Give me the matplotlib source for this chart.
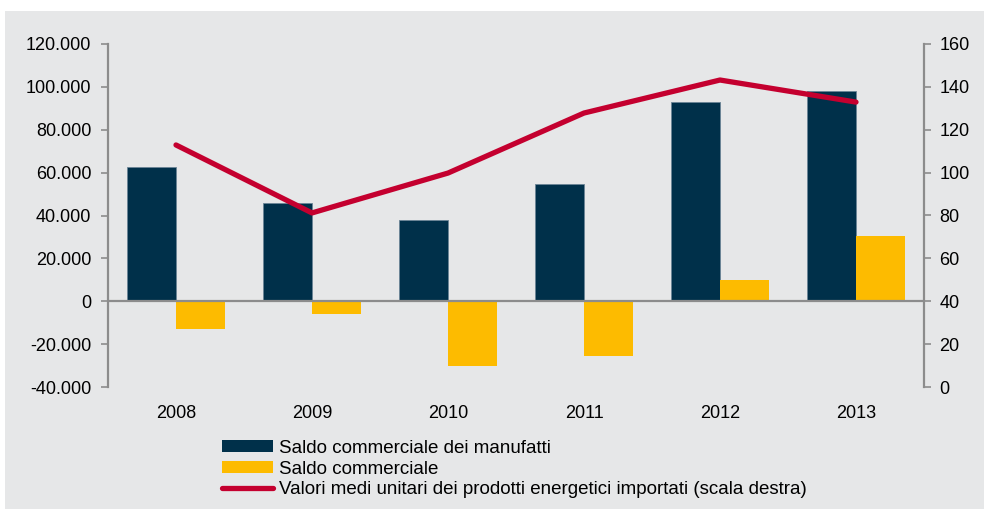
import matplotlib
matplotlib.use("Agg")
import matplotlib.pyplot as plt
import numpy as np
from matplotlib.patches import Rectangle, Patch
from matplotlib.lines import Line2D
from matplotlib.ticker import FuncFormatter, MultipleLocator

plt.rcParams['font.family'] = ['Liberation Sans', 'DejaVu Sans']

years = ["2008", "2009", "2010", "2011", "2012", "2013"]
saldo_manufatti = [62500, 45800, 37800, 54600, 92900, 98300]
saldo_commerciale = [-13100, -6100, -30300, -25700, 9800, 30400]
valori_energetici = [112.9, 81.2, 99.8, 127.8, 143.2, 132.9]

labels = [
    "Saldo commerciale dei manufatti",
    "Saldo commerciale",
    "Valori medi unitari dei prodotti energetici importati (scala destra)",
]

dark = "#00304A"
yellow = "#FDBB00"
red = "#C4002F"
grey = "#8C8C8C"
bg = "#E6E7E8"

fig = plt.figure(figsize=(9.84, 5.09), dpi=100)
fig.patch.set_facecolor("white")
# grey panel behind the chart
fig.patches.append(Rectangle((5 / 984, 0), 1, 1 - 11 / 509, transform=fig.transFigure,
                             facecolor=bg, edgecolor="none", zorder=-10))

ax = fig.add_axes([108 / 984, 1 - 387 / 509, (924 - 108) / 984, (387 - 44) / 509])
ax.set_facecolor("none")
x = np.arange(len(years))
w = 0.357
ax.bar(x - w / 2, saldo_manufatti, w, color=dark, edgecolor="#6C8596", linewidth=0.6, zorder=2)
ax.bar(x + w / 2, saldo_commerciale, w, color=yellow, edgecolor="none", zorder=2)
ax.axhline(0, color=grey, linewidth=1.6, zorder=3)

ax.set_xlim(-0.5, len(years) - 0.5)
ax.set_ylim(-40000, 120000)
ax.yaxis.set_major_locator(MultipleLocator(20000))
ax.yaxis.set_major_formatter(FuncFormatter(lambda v, p: f"{int(v):,}".replace(",", ".")))
ax.set_xticks(x)
ax.set_xticklabels(years)
ax.tick_params(axis="x", length=0, pad=13, labelsize=13)
ax.tick_params(axis="y", direction="out", length=5, width=1.2, color=grey, pad=7, labelsize=13)
for s in ["top", "right", "bottom"]:
    ax.spines[s].set_visible(False)
ax.spines["left"].set_color(grey)
ax.spines["left"].set_linewidth(1.6)

ax2 = ax.twinx()
ax2.plot(x, valori_energetici, color=red, linewidth=3.8, solid_capstyle="round",
         solid_joinstyle="round", zorder=4)
ax2.set_ylim(0, 160)
ax2.yaxis.set_major_locator(MultipleLocator(20))
ax2.tick_params(axis="y", direction="out", length=5, width=1.2, color=grey, pad=6, labelsize=13)
for s in ["top", "left", "bottom"]:
    ax2.spines[s].set_visible(False)
ax2.spines["right"].set_color(grey)
ax2.spines["right"].set_linewidth(1.6)

handles = [
    Patch(facecolor=dark, edgecolor="none"),
    Patch(facecolor=yellow, edgecolor="none"),
    Line2D([0], [0], color=red, linewidth=3.8, solid_capstyle="round"),
]
fig.legend(handles, labels, loc="upper left", bbox_to_anchor=(218 / 984, 1 - 436 / 509),
           frameon=False, fontsize=13.5, handlelength=2.75, handleheight=0.6,
           handletextpad=0.32, labelspacing=0.2, borderaxespad=0, borderpad=0.2)

fig.savefig("out.png", dpi=100, facecolor=fig.get_facecolor())
